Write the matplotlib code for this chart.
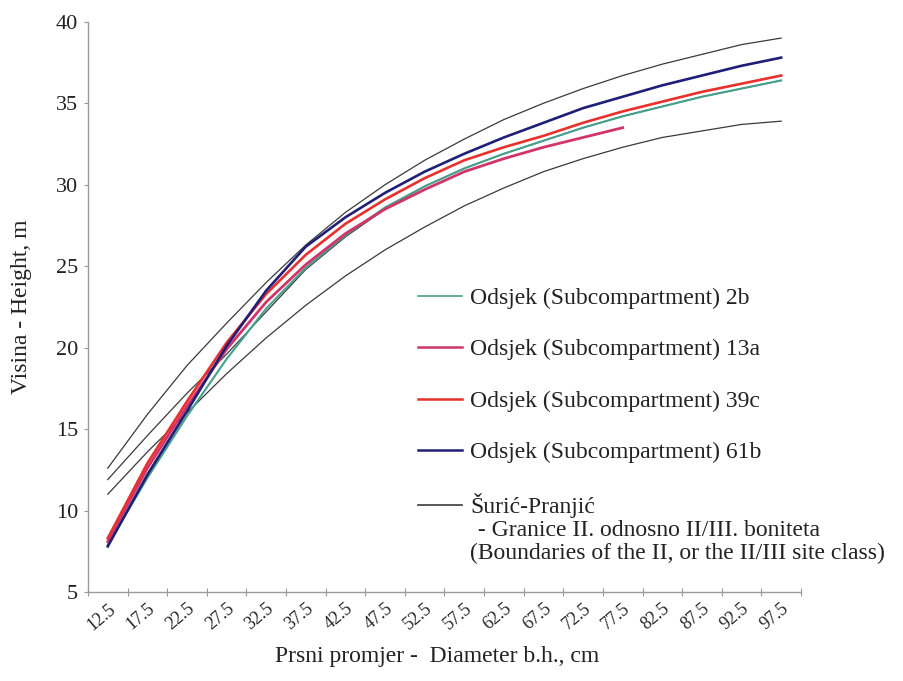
import matplotlib
matplotlib.use("Agg")
import matplotlib.pyplot as plt
from matplotlib.lines import Line2D

plt.rcParams["font.family"] = ["Liberation Serif", "DejaVu Serif"]

# diameter classes (cm) - category centres
DIAM = [12.5, 17.5, 22.5, 27.5, 32.5, 37.5, 42.5, 47.5, 52.5,
        57.5, 62.5, 67.5, 72.5, 77.5, 82.5, 87.5, 92.5, 97.5]

# height curves (m)
H_2B = [7.9, 12.0, 15.8, 19.3, 22.4, 24.9, 26.9, 28.6, 29.9,
        31.0, 31.9, 32.7, 33.5, 34.2, 34.8, 35.4, 35.9, 36.4]
H_13A = [8.1, 12.6, 16.4, 19.9, 22.8, 25.1, 27.0, 28.5, 29.7,
         30.8, 31.6, 32.3, 32.9, 33.5]
H_39C = [8.3, 12.9, 16.7, 20.3, 23.3, 25.7, 27.6, 29.1, 30.4,
         31.5, 32.3, 33.0, 33.8, 34.5, 35.1, 35.7, 36.2, 36.7]
H_61B = [7.8, 12.2, 16.1, 20.1, 23.5, 26.2, 28.0, 29.5, 30.8,
         31.9, 32.9, 33.8, 34.7, 35.4, 36.1, 36.7, 37.3, 37.8]

# Šurić-Pranjić site class boundaries
SP_UPPER = [12.6, 15.9, 18.9, 21.5, 24.0, 26.3, 28.3, 30.0, 31.5,
            32.8, 34.0, 35.0, 35.9, 36.7, 37.4, 38.0, 38.6, 39.0]
SP_MIDDLE = [11.9, 14.6, 17.2, 19.6, 22.2, 24.8, 26.8, 28.5, 29.9,
             31.0, 31.9, 32.7, 33.5, 34.2, 34.8, 35.4, 35.9, 36.4]
SP_LOWER = [11.0, 13.6, 16.0, 18.4, 20.6, 22.6, 24.4, 26.0, 27.4,
            28.7, 29.8, 30.8, 31.6, 32.3, 32.9, 33.3, 33.7, 33.9]

LABELS = ["Odsjek (Subcompartment) 2b", "Odsjek (Subcompartment) 13a",
          "Odsjek (Subcompartment) 39c", "Odsjek (Subcompartment) 61b",
          "Šurić-Pranjić"]
COLORS = ["#45a08c", "#d23468", "#e8302c", "#1f1f78", "#3a3a3a"]
TEXT_C = "#222222"
AXIS_C = "#9a9a9a"

fig = plt.figure(figsize=(9.04, 6.81), dpi=100)
ax = fig.add_axes([0.0973, 0.1307, 0.7887, 0.8373])

for sp in (SP_UPPER, SP_MIDDLE, SP_LOWER):
    ax.plot(DIAM, sp, color=COLORS[4], lw=0.9)

ax.plot(DIAM, H_2B, color=COLORS[0], lw=1.5)
ax.plot(DIAM[:len(H_13A)], H_13A, color=COLORS[1], lw=2.0)
ax.plot(DIAM, H_39C, color=COLORS[2], lw=1.9)
ax.plot(DIAM, H_61B, color=COLORS[3], lw=1.9)

ax.set_xlim(10, 100)
ax.set_ylim(5, 40)
ax.set_yticks(range(5, 41, 5))
ax.set_xticks(range(10, 101, 5))
ax.set_xticklabels([])
ax.set_xticks(DIAM, minor=True)
ax.set_xticklabels([f"{d:g}" for d in DIAM], minor=True, rotation=40,
                   ha="right", va="top", rotation_mode="anchor")

for s in ("top", "right"):
    ax.spines[s].set_visible(False)
for s in ("left", "bottom"):
    ax.spines[s].set_color(AXIS_C)
    ax.spines[s].set_linewidth(1.0)

ax.tick_params(axis="y", which="major", direction="out", length=3,
               width=0.8, color=AXIS_C, labelsize=16, labelcolor=TEXT_C, pad=4)
ax.tick_params(axis="x", which="major", direction="inout", length=6,
               width=0.8, color=AXIS_C)
ax.tick_params(axis="x", which="minor", length=0, labelsize=13,
               labelcolor=TEXT_C, pad=6)

ax.set_ylabel("Visina - Height, m", fontsize=17, color=TEXT_C)
ax.yaxis.set_label_coords(-0.078, 0.5)
ax.set_xlabel("Prsni promjer -  Diameter b.h., cm", fontsize=17, color=TEXT_C)
ax.xaxis.label.set_va("center")
ax.xaxis.set_label_coords(0.49, -0.113)

handles = [Line2D([], [], color=c, lw=1.8 if i in (1, 2, 3) else 1.2)
           for i, c in enumerate(COLORS)]
leg = ax.legend(handles, LABELS, loc="upper left",
                bbox_to_anchor=(0.4624, 0.578), bbox_transform=fig.transFigure,
                frameon=False, fontsize=17, borderpad=0, borderaxespad=0,
                handlelength=1.85, handletextpad=0.35, labelspacing=1.27)
for t in leg.get_texts():
    t.set_color(TEXT_C)

fig.text(0.522, 0.2217, " - Granice II. odnosno II/III. boniteta",
         fontsize=17, color=TEXT_C, va="center", ha="left")
fig.text(0.520, 0.1866, "(Boundaries of the II, or the II/III site class)",
         fontsize=17, color=TEXT_C, va="center", ha="left")

fig.savefig("out.png", dpi=100, facecolor="white")
